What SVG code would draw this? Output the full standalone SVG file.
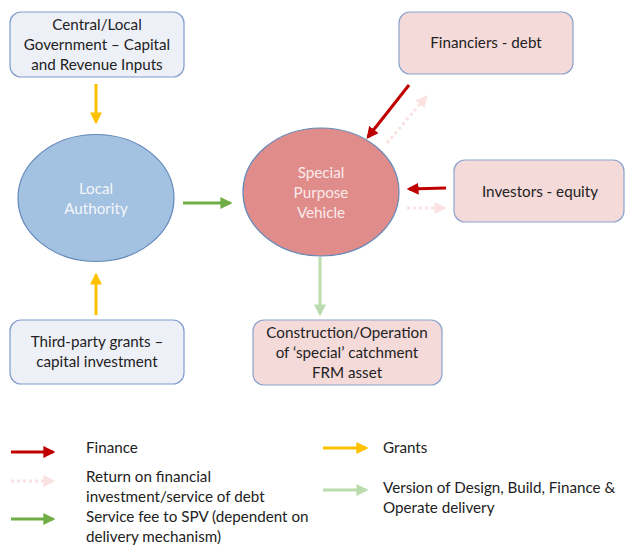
<svg xmlns="http://www.w3.org/2000/svg" width="625" height="545" viewBox="0 0 625 545">
  <style>
    text { font-family: Lato, "Liberation Sans", sans-serif; font-size: 15.2px; fill: #222; }
    .c { text-anchor: middle; }
    .w { fill: #f4f6fb; }
    .wp { fill: #fbeaea; }
    .boxB { fill: #eef0f8; stroke: #7f9ccc; stroke-width: 1.2; }
    .boxP { fill: #f5dada; stroke: #8ba3cc; stroke-width: 1.2; }
    .red { stroke: #c00000; stroke-width: 3; fill: none; }
    .yel { stroke: #ffc000; stroke-width: 3; fill: none; }
    .grn { stroke: #70ad47; stroke-width: 3; fill: none; }
    .lgr { stroke: #bcdcae; stroke-width: 3; fill: none; }
    .pnk { stroke: #fbe2e2; stroke-width: 3; fill: none; stroke-dasharray: 3 3; }
  </style>
  <defs>
    <marker id="mRed" markerWidth="4" markerHeight="4" refX="3.2" refY="2" orient="auto" markerUnits="strokeWidth"><path d="M0,0 L4,2 L0,4 z" fill="#c00000"/></marker>
    <marker id="mYel" markerWidth="4" markerHeight="4" refX="3.2" refY="2" orient="auto" markerUnits="strokeWidth"><path d="M0,0 L4,2 L0,4 z" fill="#ffc000"/></marker>
    <marker id="mGrn" markerWidth="4" markerHeight="4" refX="3.2" refY="2" orient="auto" markerUnits="strokeWidth"><path d="M0,0 L4,2 L0,4 z" fill="#70ad47"/></marker>
    <marker id="mLgr" markerWidth="4" markerHeight="4" refX="3.2" refY="2" orient="auto" markerUnits="strokeWidth"><path d="M0,0 L4,2 L0,4 z" fill="#bcdcae"/></marker>
    <marker id="mPnk" markerWidth="4" markerHeight="4" refX="3.2" refY="2" orient="auto" markerUnits="strokeWidth"><path d="M0,0 L4,2 L0,4 z" fill="#fbe2e2"/></marker>
  </defs>

  <rect width="625" height="545" fill="#ffffff"/>

  <!-- nodes -->
  <g id="central-government">
    <rect class="boxB" x="10" y="12" width="174" height="65" rx="11"/>
    <text class="c" x="97" y="30">Central/Local</text>
    <text class="c" x="97" y="50">Government – Capital</text>
    <text class="c" x="97" y="70">and Revenue Inputs</text>
  </g>

  <g id="local-authority">
    <ellipse cx="96" cy="198" rx="78" ry="63.5" fill="#a3c1e0" stroke="#6388ba" stroke-width="1.2"/>
    <text class="c w" x="96" y="194">Local</text>
    <text class="c w" x="96" y="214">Authority</text>
  </g>

  <g id="third-party-grants">
    <rect class="boxB" x="10" y="320" width="174" height="64" rx="11"/>
    <text class="c" x="97" y="347">Third-party grants –</text>
    <text class="c" x="97" y="367">capital investment</text>
  </g>

  <g id="spv">
    <ellipse cx="321" cy="192" rx="78" ry="64" fill="#e08c8b" stroke="#6388ba" stroke-width="1.2"/>
    <text class="c wp" x="321" y="178">Special</text>
    <text class="c wp" x="321" y="198">Purpose</text>
    <text class="c wp" x="321" y="218">Vehicle</text>
  </g>

  <g id="financiers">
    <rect class="boxP" x="399" y="12" width="174" height="62" rx="11"/>
    <text class="c" x="486" y="48">Financiers - debt</text>
  </g>

  <g id="investors">
    <rect class="boxP" x="454" y="160" width="170" height="62" rx="11"/>
    <text class="c" x="540" y="197">Investors - equity</text>
  </g>

  <g id="construction">
    <rect class="boxP" x="253" y="320" width="189" height="65" rx="11"/>
    <text class="c" x="347" y="338">Construction/Operation</text>
    <text class="c" x="347" y="358">of ‘special’ catchment</text>
    <text class="c" x="347" y="378">FRM asset</text>
  </g>

  <!-- connectors -->
  <g id="connectors">
    <line class="yel" x1="96" y1="84" x2="96" y2="122" marker-end="url(#mYel)"/>
    <line class="yel" x1="96" y1="315" x2="96" y2="275" marker-end="url(#mYel)"/>
    <line class="grn" x1="183" y1="203" x2="230" y2="203" marker-end="url(#mGrn)"/>
    <line class="lgr" x1="320" y1="257" x2="320" y2="314" marker-end="url(#mLgr)"/>
    <line class="red" x1="409" y1="85" x2="368" y2="137" marker-end="url(#mRed)"/>
    <line class="pnk" x1="387" y1="143" x2="426" y2="97" marker-end="url(#mPnk)"/>
    <line class="red" x1="446" y1="188" x2="409" y2="189" marker-end="url(#mRed)"/>
    <line class="pnk" x1="407" y1="208" x2="444" y2="208" marker-end="url(#mPnk)"/>
  </g>

  <!-- legend -->
  <g id="legend">
    <line class="red" x1="11" y1="452" x2="53" y2="452" marker-end="url(#mRed)"/>
    <text x="86" y="453">Finance</text>
    <line class="pnk" x1="11" y1="481" x2="53" y2="481" marker-end="url(#mPnk)"/>
    <text x="86" y="482">Return on financial</text>
    <text x="86" y="502">investment/service of debt</text>
    <line class="grn" x1="11" y1="519" x2="53" y2="519" marker-end="url(#mGrn)"/>
    <text x="86" y="522">Service fee to SPV (dependent on</text>
    <text x="86" y="542">delivery mechanism)</text>

    <line class="yel" x1="323" y1="448" x2="366" y2="448" marker-end="url(#mYel)"/>
    <text x="383" y="453">Grants</text>
    <line class="lgr" x1="323" y1="490" x2="366" y2="490" marker-end="url(#mLgr)"/>
    <text x="383" y="493">Version of Design, Build, Finance &amp;</text>
    <text x="383" y="513">Operate delivery</text>
  </g>
</svg>
